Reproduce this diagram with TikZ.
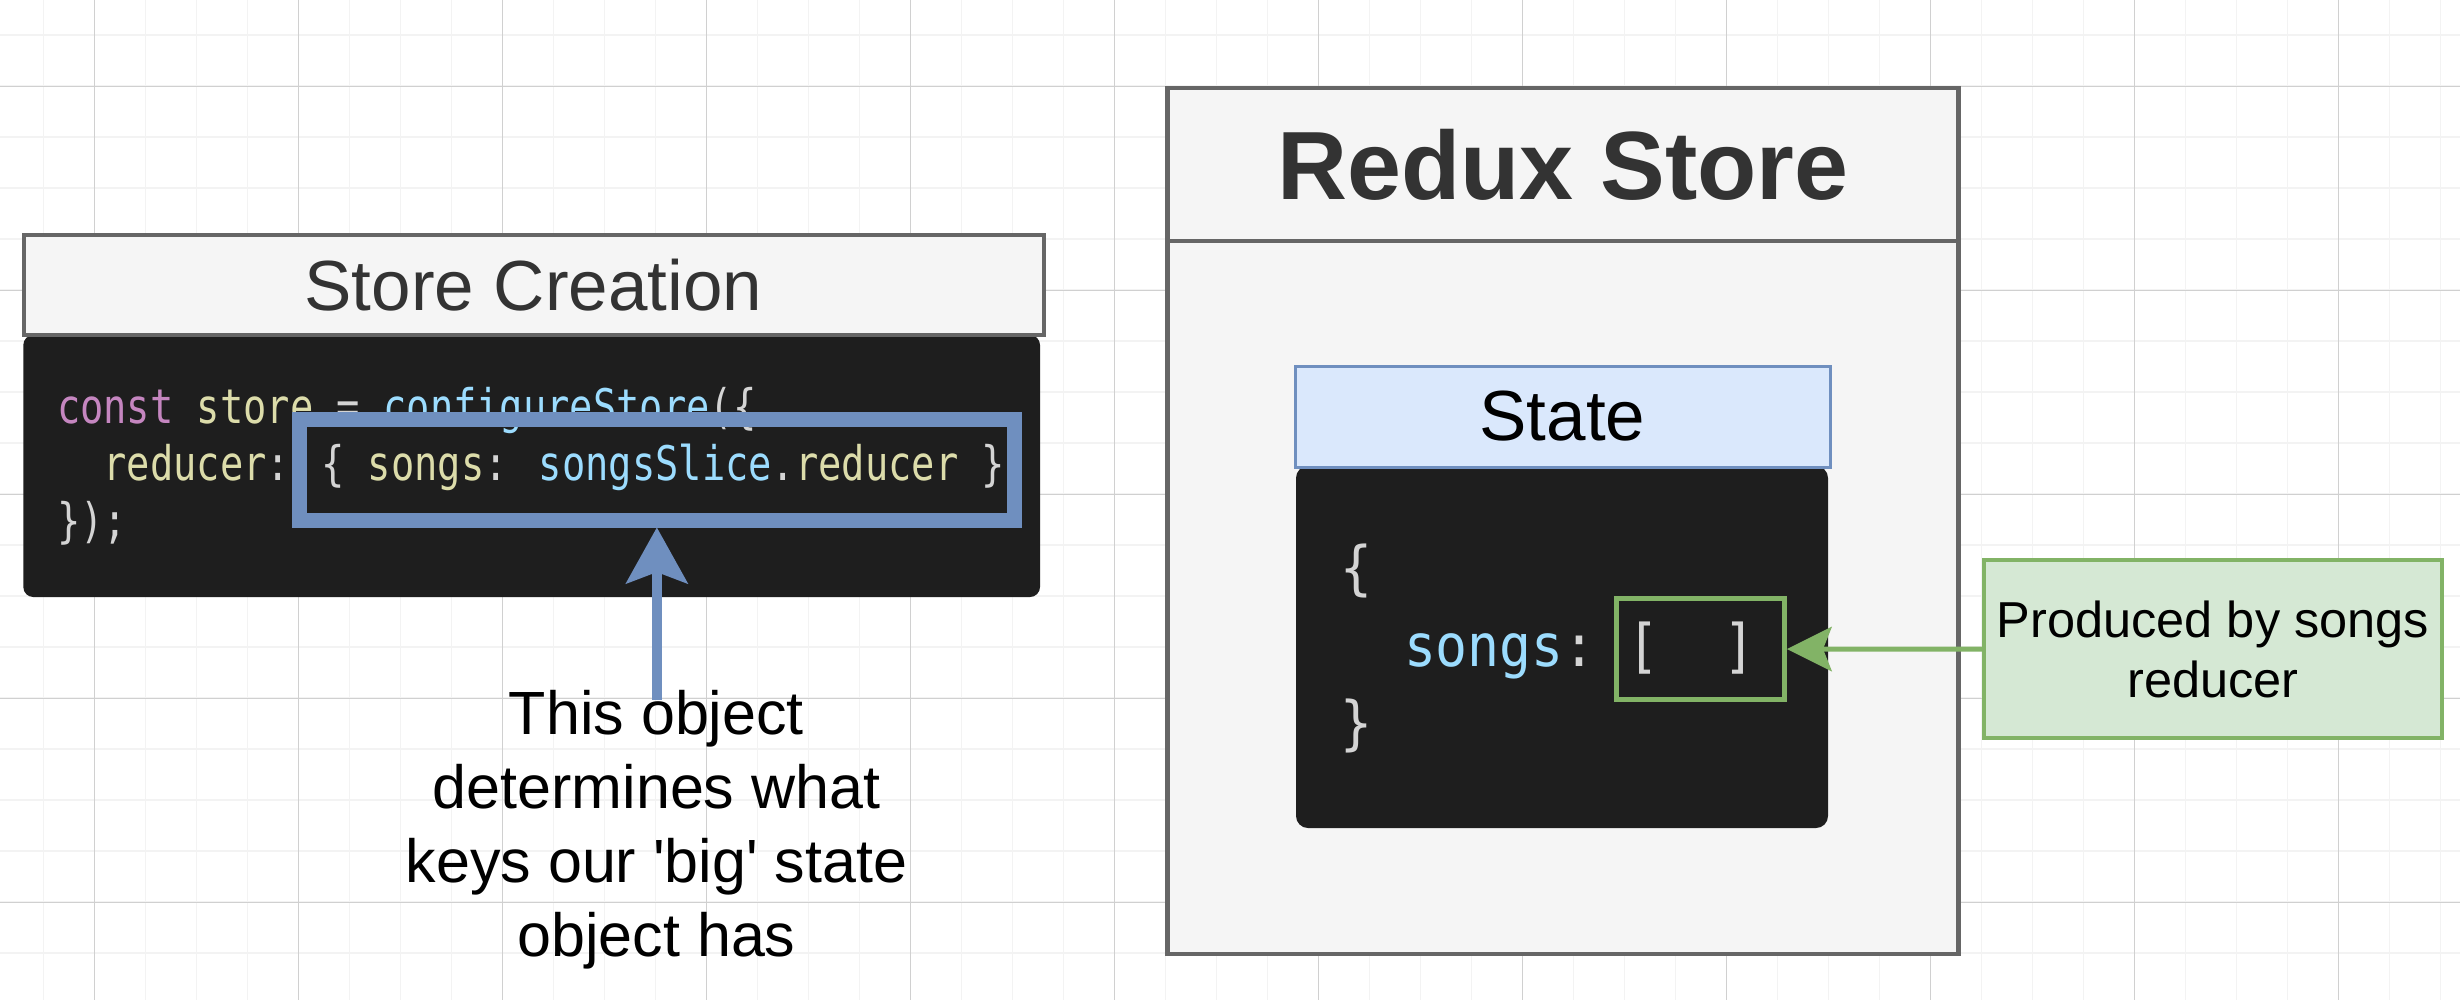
\documentclass[tikz,border=0pt]{standalone}
\usepackage{fontspec}
\setmainfont{Liberation Sans}
\newfontfamily\codeA[FakeStretch=0.812]{DejaVu Sans Mono}
\newfontfamily\codeB[FakeStretch=0.905]{DejaVu Sans Mono}
\usetikzlibrary{arrows.meta}
\definecolor{gridmin}{HTML}{F3F3F3}
\definecolor{gridmaj}{HTML}{D0D0D0}
\definecolor{cBlueS}{HTML}{6F8FBF}
\definecolor{cBlueF}{HTML}{DAE8FC}
\definecolor{cGreenS}{HTML}{82B366}
\definecolor{cGreenF}{HTML}{D5E8D4}
\definecolor{cGrayS}{HTML}{666666}
\definecolor{cGrayF}{HTML}{F5F5F5}
\definecolor{cDark}{HTML}{1E1E1E}
\definecolor{cText}{HTML}{333333}
\definecolor{cPurple}{HTML}{C586C0}
\definecolor{cYellow}{HTML}{DCDCAA}
\definecolor{cLight}{HTML}{9CDCFE}
\definecolor{cPunct}{HTML}{D4D4D4}
\tikzset{
  gridminline/.style={draw=gridmin, line width=0.15mm},
  gridmajline/.style={draw=gridmaj, line width=0.1mm},
  graybox/.style={draw=cGrayS, fill=cGrayF, inner sep=0pt},
  darkbox/.style={fill=cDark, draw=none, inner sep=0pt},
  codeline/.style={anchor=base west, inner sep=0pt, outer sep=0pt},
  greenline/.style={draw=cGreenS},
}
\begin{document}
\begin{tikzpicture}[x=0.1mm, y=-0.1mm]
\useasboundingbox (0,0) rectangle (2460,1000);
\fill[white] (0,0) rectangle (2460,1000);
% grid
\foreach \i in {0,...,47} \draw[gridminline] ({43.3+51*\i},0) -- ({43.3+51*\i},1000);
\foreach \j in {0,...,18} \draw[gridminline] (0,{35+51*\j}) -- (2460,{35+51*\j});
\foreach \i in {0,...,11} \draw[gridmajline] ({94.3+204*\i},0) -- ({94.3+204*\i},1000);
\foreach \j in {0,...,4} \draw[gridmajline] (0,{86+204*\j}) -- (2460,{86+204*\j});

% ---------- Store creation ----------
\node[darkbox, rounded corners=1mm, minimum width=101.67mm, minimum height=26.2mm] (storecode) at (531.65,466) {};
\node[graybox, line width=0.4mm, minimum width=102mm, minimum height=9.97mm,
      font=\fontsize{20.2pt}{24pt}\selectfont, text=cText] (storehead) at (533.5,285.2) {Store Creation};
\node[codeline, font=\codeA\fontsize{13.57pt}{16.2pt}\selectfont] (code1) at (57,423)
  {{\color{cPurple}const} {\color{cYellow}store} {\color{cPunct}=} {\color{cLight}configureStore}{\color{cPunct}(\{}};
\node[codeline, font=\codeA\fontsize{13.57pt}{16.2pt}\selectfont] (code2) at (103.6,480)
  {{\color{cYellow}reducer}{\color{cPunct}:} {\color{cPunct}\{} {\color{cYellow}songs}{\color{cPunct}:} {\color{cLight}songsSlice}{\color{cPunct}.}{\color{cYellow}reducer} {\color{cPunct}\}}};
\node[codeline, font=\codeA\fontsize{13.57pt}{16.2pt}\selectfont, text=cPunct] (code3) at (57,537) {\});};
\node[draw=cBlueS, line width=1.5mm, inner sep=0pt, minimum width=71.43mm, minimum height=10.1mm] (hl) at (656.85,469.5) {};

\node[align=center, inner sep=0pt, font=\fontsize{17.36pt}{21.14pt}\selectfont\addfontfeatures{Ligatures=TeXOff}] (note) at (656.5,829.7)
  {This object\\determines what\\keys our 'big' state\\object has};
\coordinate (arrowstart) at (656.85,700);
\draw[draw=cBlueS, line width=0.93mm, -{Stealth[length=5.66mm,width=6.3mm,inset=1.2mm,line width=0pt]}] (arrowstart) -- (hl.south);

% ---------- Redux store ----------
\node[graybox, line width=0.45mm, minimum width=79.12mm, minimum height=71.32mm] (reduxbody) at (1562.9,597.4) {};
\node[graybox, line width=0.45mm, minimum width=79.12mm, minimum height=15.28mm,
      font=\bfseries\fontsize{27.6pt}{32pt}\selectfont, text=cText] (reduxtitle) at (1562.9,164.4) {Redux Store};

\node[darkbox, rounded corners=1.2mm, minimum width=53.2mm, minimum height=36.2mm] (statecode) at (1562,647) {};
\node[draw=cBlueS, fill=cBlueF, line width=0.3mm, inner sep=0pt, minimum width=53.5mm, minimum height=10.1mm,
      font=\fontsize{20.2pt}{24pt}\selectfont] (statehead) at (1562.5,416.5) {State};
\node[codeline, font=\codeB\fontsize{16.7pt}{22pt}\selectfont, text=cPunct] (st1) at (1340,588) {\{};
\node[codeline, font=\codeB\fontsize{16.7pt}{22pt}\selectfont] (st2) at (1404,666)
  {{\color{cLight}songs}{\color{cPunct}:\ [\ \ ]}};
\node[codeline, font=\codeB\fontsize{16.7pt}{22pt}\selectfont, text=cPunct] (st3) at (1340,743) {\}};
\node[greenline, line width=0.47mm, inner sep=0pt, minimum width=16.8mm, minimum height=10.15mm] (emptyarr) at (1700.7,649.05) {};

% ---------- annotation ----------
\node[draw=cGreenS, fill=cGreenF, line width=0.43mm, inner sep=0pt, minimum width=45.8mm, minimum height=17.8mm,
      align=center, font=\fontsize{14.37pt}{17.07pt}\selectfont] (producer) at (2213,649) {Produced by songs\\reducer};
\draw[draw=cGreenS, line width=0.5mm, -{Stealth[length=4.5mm,width=4.5mm,inset=0.9mm,line width=0pt]}] (producer.west) -- (emptyarr.east);
\end{tikzpicture}
\end{document}
